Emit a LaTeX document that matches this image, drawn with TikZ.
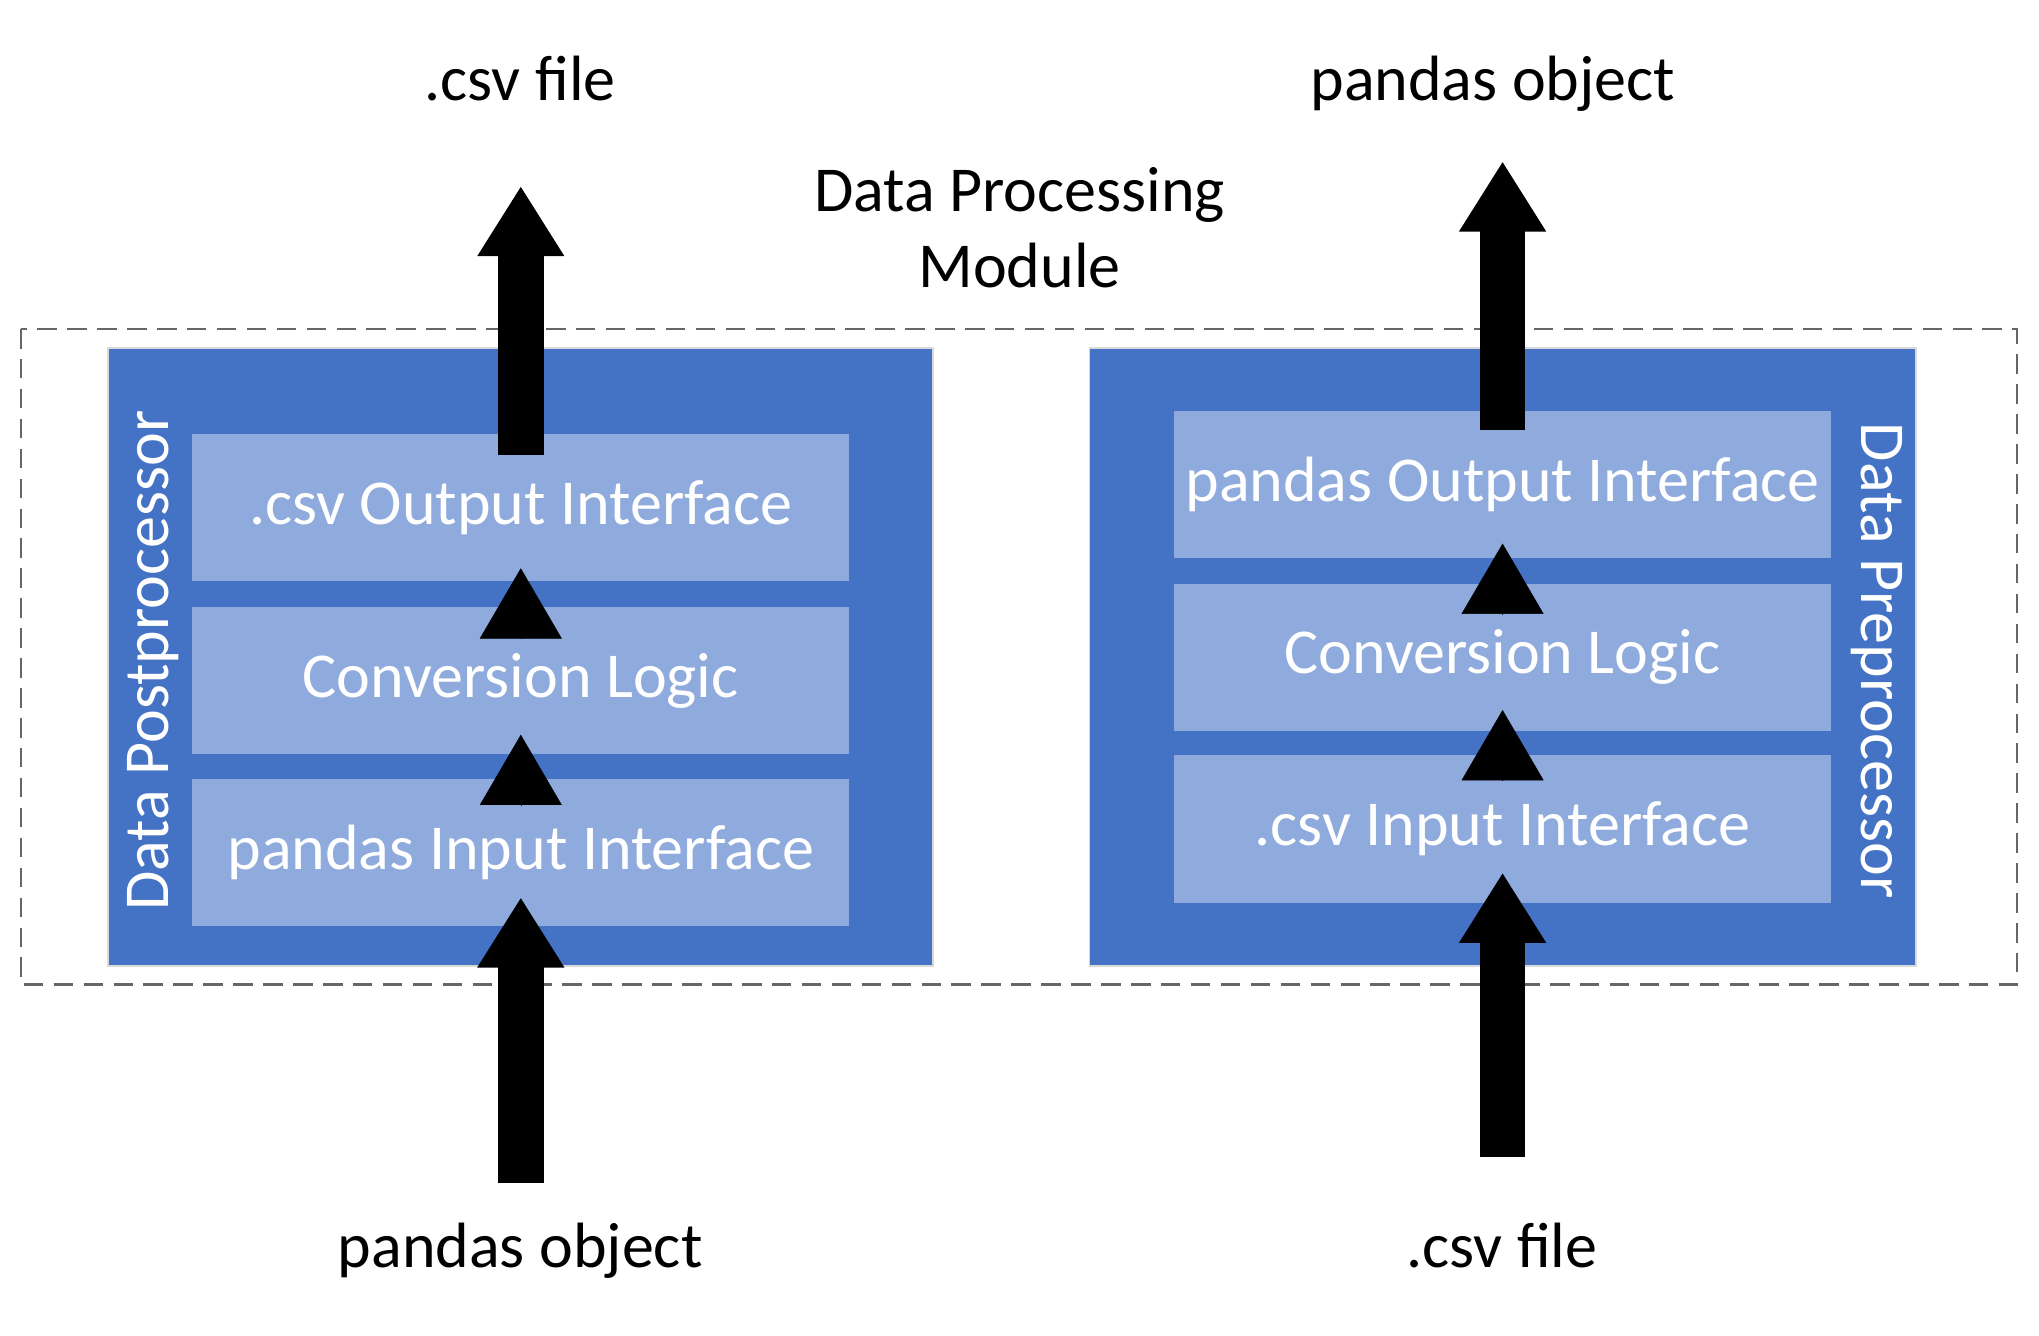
\documentclass[tikz,border=0pt]{standalone}
\usepackage{fontspec}
\setmainfont{Carlito}
\usetikzlibrary{arrows.meta,positioning}
\definecolor{modblue}{HTML}{4472C4}
\definecolor{layerblue}{HTML}{8FAADC}

\begin{document}
\begin{tikzpicture}[x=0.01cm,y=-0.01cm,font=\fontsize{14}{16.5}\selectfont,
	unit/.style={fill=modblue,draw=white!85!black,line width=0.4pt,minimum width=6.34cm,minimum height=4.75cm,inner sep=0pt},
	layer/.style={fill=layerblue,text=white,minimum width=5.05cm,minimum height=1.13cm,inner sep=0pt},
	side/.style={text=white,inner sep=0pt},
	iolabel/.style={anchor=base,inner sep=0pt},
	flow/.style={-{Triangle[width=6.3mm,length=5.4mm]},line width=3.5mm},
	hop/.style={-{Triangle[width=6.3mm,length=5.4mm]},line width=0.1pt}]
	\useasboundingbox (0,0) rectangle (1568,1027);
	% module frame
	\draw[gray!80!black,line width=0.5pt,dash pattern=on 1.5mm off 0.8mm] (16,253) rectangle (1551,757);
	\node[iolabel,align=center] (title) at (784,221) {Data Processing\\Module};

	% postprocessor
	\node[unit] (post) at (400,505.5) {};
	\node[layer] (postOut) at (400.5,390.5) {.csv Output Interface};
	\node[layer] (postConv) at (400.5,523.5) {Conversion Logic};
	\node[layer] (postIn) at (400.5,655.5) {pandas Input Interface};
	\node[side,rotate=90] (postName) at (118,508) {Data Postprocessor};

	% preprocessor
	\node[unit,minimum width=6.35cm] (pre) at (1155.5,505.5) {};
	\node[layer] (preOut) at (1155.5,372.5) {pandas Output Interface};
	\node[layer] (preConv) at (1155.5,505.5) {Conversion Logic};
	\node[layer] (preIn) at (1155.5,637.5) {.csv Input Interface};
	\node[side,rotate=-90] (preName) at (1443,508) {Data Preprocessor};

	% inputs and outputs
	\node[iolabel] (postSrc) at (400,975) {pandas object};
	\node[iolabel] (postDst) at (400,77) {.csv file};
	\node[iolabel] (preSrc) at (1155,975) {.csv file};
	\node[iolabel] (preDst) at (1148,77) {pandas object};

	\coordinate (a0) at (400.5,910);  \coordinate (a1) at (400.5,690);
	\coordinate (a2) at (400.5,350);  \coordinate (a3) at (400.5,143);
	\coordinate (b0) at (1155.5,890); \coordinate (b1) at (1155.5,671);
	\coordinate (b2) at (1155.5,331); \coordinate (b3) at (1155.5,124);
	\draw[flow] (a0) -- (a1);
	\draw[flow] (a2) -- (a3);
	\draw[flow] (b0) -- (b1);
	\draw[flow] (b2) -- (b3);

	% steps between layers
	\foreach \x/\y in {400.5/491,400.5/619,1155.5/472,1155.5/600}
		\draw[hop] (\x,\y) -- (\x,\y-54);
\end{tikzpicture}
\end{document}
